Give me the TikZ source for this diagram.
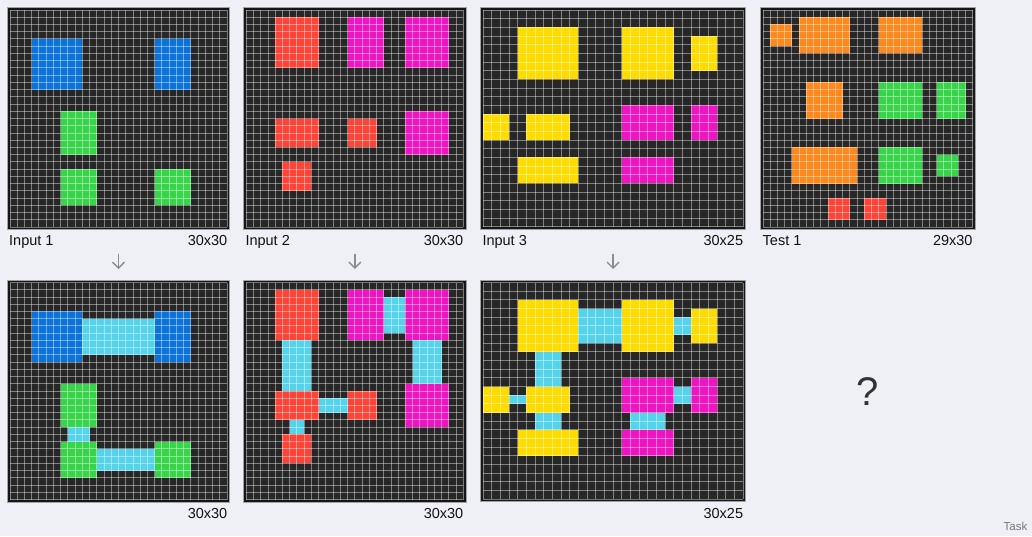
\documentclass[tikz,border=0pt]{standalone}
\usepackage{fontspec}
\setmainfont{Liberation Sans}
\usetikzlibrary{arrows.meta}
\definecolor{pagebg}{HTML}{EFF0F6}
\definecolor{framebk}{HTML}{161616}
\definecolor{framegray}{HTML}{A2A2A8}
\definecolor{cellbk}{HTML}{272727}
\definecolor{cblue}{HTML}{0A72D8}
\definecolor{cgreen}{HTML}{38D54A}
\definecolor{cred}{HTML}{FF4336}
\definecolor{cmag}{HTML}{EE14BF}
\definecolor{cyel}{HTML}{FFDC00}
\definecolor{corange}{HTML}{FF881D}
\definecolor{ccyan}{HTML}{55D3EB}
\definecolor{lbltext}{HTML}{111111}
\definecolor{arrowgray}{HTML}{8C8C8C}
\definecolor{qgray}{HTML}{333333}
\definecolor{taskgray}{HTML}{777777}
\tikzset{
  gridframe/.style={fill=framebk, draw=framegray, line width=0.8pt},
  cellbg/.style={fill=cellbk},
  gl/.style={draw=white, draw opacity=0.42, line width=0.9pt},
  lbl/.style={font=\fontsize{14.5}{17}\selectfont, text=lbltext, inner sep=0pt},
  flowarrow/.style={draw=arrowgray, line width=1.4pt, -{Straight Barb[length=6pt,width=12pt]}},
  qmark/.style={font=\fontsize{40}{44}\selectfont, text=qgray, inner sep=0pt},
  tasklbl/.style={font=\fontsize{11.5}{13}\selectfont, text=taskgray, inner sep=0pt}
}
% #1 name, #2 x, #3 y, #4 cell, #5 cols, #6 rows, #7 blocks
\newcommand{\arcgrid}[7]{%
\begin{scope}[shift={(#2pt,-#3pt)}, x=#4pt, y=-#4pt]
  \coordinate (#1-nw) at (0,0);
  \coordinate (#1-se) at (#5,#6);
  \path[gridframe] ([shift={(-2.6pt,2.6pt)}]#1-nw) rectangle ([shift={(2.6pt,-2.6pt)}]#1-se);
  \fill[cellbg] (#1-nw) rectangle (#1-se);
  #7
  \foreach \i in {0,...,#5} \draw[gl] (\i,0) -- (\i,#6);
  \foreach \j in {0,...,#6} \draw[gl] (0,\j) -- (#5,\j);
\end{scope}}
\newcommand{\blk}[5]{\fill[#1] (#2,#3) rectangle (#4,#5);}
\begin{document}
\begin{tikzpicture}[x=1pt, y=-1pt]
\useasboundingbox[fill=pagebg] (0,0) rectangle (1032,536);

% ---------- Input 1 ----------
\arcgrid{in1}{10}{10}{7.2333}{30}{30}{%
  \blk{cblue}{3}{4}{10}{11}\blk{cblue}{20}{4}{25}{11}
  \blk{cgreen}{7}{14}{12}{20}\blk{cgreen}{7}{22}{12}{27}\blk{cgreen}{20}{22}{25}{27}}
% ---------- Output 1 ----------
\arcgrid{out1}{10}{282.5}{7.2333}{30}{30}{%
  \blk{cblue}{3}{4}{10}{11}\blk{cblue}{20}{4}{25}{11}
  \blk{cgreen}{7}{14}{12}{20}\blk{cgreen}{7}{22}{12}{27}\blk{cgreen}{20}{22}{25}{27}
  \blk{ccyan}{10}{5}{20}{10}\blk{ccyan}{8}{20}{11}{22}\blk{ccyan}{12}{23}{20}{26}}

% ---------- Input 2 ----------
\arcgrid{in2}{246.3}{10}{7.2333}{30}{30}{%
  \blk{cred}{4}{1}{10}{8}\blk{cred}{4}{15}{10}{19}\blk{cred}{14}{15}{18}{19}\blk{cred}{5}{21}{9}{25}
  \blk{cmag}{14}{1}{19}{8}\blk{cmag}{22}{1}{28}{8}\blk{cmag}{22}{14}{28}{20}}
% ---------- Output 2 ----------
\arcgrid{out2}{246.3}{282.5}{7.2333}{30}{30}{%
  \blk{cred}{4}{1}{10}{8}\blk{cred}{4}{15}{10}{19}\blk{cred}{14}{15}{18}{19}\blk{cred}{5}{21}{9}{25}
  \blk{cmag}{14}{1}{19}{8}\blk{cmag}{22}{1}{28}{8}\blk{cmag}{22}{14}{28}{20}
  \blk{ccyan}{5}{8}{9}{15}\blk{ccyan}{10}{16}{14}{18}\blk{ccyan}{6}{19}{8}{21}
  \blk{ccyan}{19}{2}{22}{7}\blk{ccyan}{23}{8}{27}{14}}

% ---------- Input 3 ----------
\arcgrid{in3}{483}{10}{8.6667}{30}{25}{%
  \blk{cyel}{4}{2}{11}{8}\blk{cyel}{16}{2}{22}{8}\blk{cyel}{24}{3}{27}{7}
  \blk{cyel}{0}{12}{3}{15}\blk{cyel}{5}{12}{10}{15}\blk{cyel}{4}{17}{11}{20}
  \blk{cmag}{16}{11}{22}{15}\blk{cmag}{24}{11}{27}{15}\blk{cmag}{16}{17}{22}{20}}
% ---------- Output 3 ----------
\arcgrid{out3}{483}{282.5}{8.6667}{30}{25}{%
  \blk{cyel}{4}{2}{11}{8}\blk{cyel}{16}{2}{22}{8}\blk{cyel}{24}{3}{27}{7}
  \blk{cyel}{0}{12}{3}{15}\blk{cyel}{5}{12}{10}{15}\blk{cyel}{4}{17}{11}{20}
  \blk{cmag}{16}{11}{22}{15}\blk{cmag}{24}{11}{27}{15}\blk{cmag}{16}{17}{22}{20}
  \blk{ccyan}{11}{3}{16}{7}\blk{ccyan}{22}{4}{24}{6}\blk{ccyan}{6}{8}{9}{12}
  \blk{ccyan}{3}{13}{5}{14}\blk{ccyan}{6}{15}{9}{17}\blk{ccyan}{22}{12}{24}{14}
  \blk{ccyan}{17}{15}{21}{17}}

% ---------- Test 1 ----------
\arcgrid{test1}{763}{10}{7.2333}{29}{30}{%
  \blk{corange}{1}{2}{4}{5}\blk{corange}{5}{1}{12}{6}\blk{corange}{16}{1}{22}{6}
  \blk{corange}{6}{10}{11}{15}\blk{corange}{4}{19}{13}{24}
  \blk{cgreen}{16}{10}{22}{15}\blk{cgreen}{24}{10}{28}{15}\blk{cgreen}{16}{19}{22}{24}\blk{cgreen}{24}{20}{27}{23}
  \blk{cred}{9}{26}{12}{29}\blk{cred}{14}{26}{17}{29}}

% ---------- labels ----------
\node[lbl, anchor=base west] (lin1) at (9,245.5) {Input 1};
\node[lbl, anchor=base east] (sin1) at (227.5,245.5) {30x30};
\node[lbl, anchor=base west] (lin2) at (245.3,245.5) {Input 2};
\node[lbl, anchor=base east] (sin2) at (463.5,245.5) {30x30};
\node[lbl, anchor=base west] (lin3) at (482.3,245.5) {Input 3};
\node[lbl, anchor=base east] (sin3) at (743.3,245.5) {30x25};
\node[lbl, anchor=base west] (ltest) at (762.5,245.5) {Test 1};
\node[lbl, anchor=base east] (stest) at (972.7,245.5) {29x30};
\node[lbl, anchor=base east] (sout1) at (227.5,518) {30x30};
\node[lbl, anchor=base east] (sout2) at (463.5,518) {30x30};
\node[lbl, anchor=base east] (sout3) at (743.3,518) {30x25};

% ---------- arrows ----------
\coordinate (a1s) at (118.5,253.5); \coordinate (a1e) at (118.5,269);
\coordinate (a2s) at (354.8,253.5); \coordinate (a2e) at (354.8,269);
\coordinate (a3s) at (613,253.5);   \coordinate (a3e) at (613,269);
\draw[flowarrow] (a1s) -- (a1e);
\draw[flowarrow] (a2s) -- (a2e);
\draw[flowarrow] (a3s) -- (a3e);

% ---------- unknown output ----------
\node[qmark] (q) at (868,391.5) {?};
\node[tasklbl, anchor=base east] (task) at (1027.5,530.5) {Task};
\end{tikzpicture}
\end{document}
